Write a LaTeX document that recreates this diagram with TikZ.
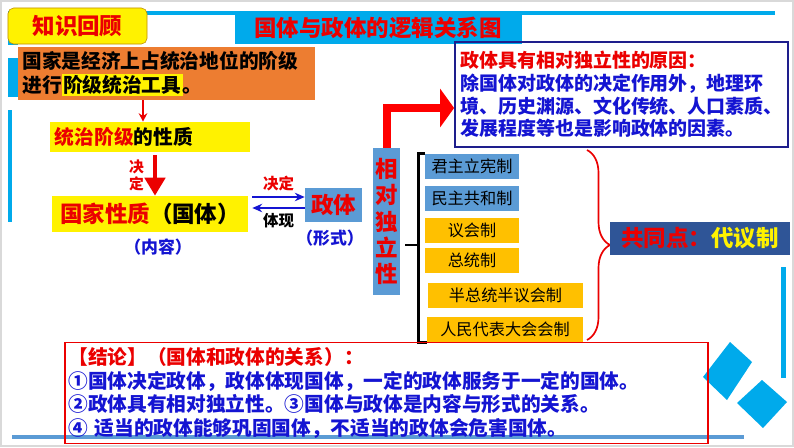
\documentclass[tikz,border=0pt]{standalone}
\usepackage{xcolor}
\usepackage{fontspec}
\setmainfont{Noto Sans CJK SC}
\usepackage{tikz}
\usetikzlibrary{calc,arrows.meta,decorations.pathreplacing}

\definecolor{skyblue}{RGB}{0,170,235}
\definecolor{boxblue}{RGB}{91,155,213}
\definecolor{gold}{RGB}{255,192,0}
\definecolor{orangebox}{RGB}{237,125,49}
\definecolor{navy}{RGB}{30,30,140}
\definecolor{darkbox}{RGB}{47,85,151}
\definecolor{txtblue}{RGB}{20,20,210}
\definecolor{txtred}{RGB}{235,0,0}

\tikzset{
    big/.style={font=\bfseries\fontsize{16pt}{18pt}\selectfont},
    mid/.style={font=\bfseries\fontsize{14pt}{17pt}\selectfont},
    small/.style={font=\bfseries\fontsize{11pt}{13pt}\selectfont},
    itembox/.style={inner sep=0pt, minimum height=0.625cm, text=black,
        font=\fontsize{11.5pt}{13pt}\selectfont},
    blueitem/.style={itembox, fill=boxblue},
    golditem/.style={itembox, fill=gold},
    bluearr/.style={txtblue, line width=1.3pt, -{Stealth[length=7pt,width=6pt]}},
}

\begin{document}
\begin{tikzpicture}[x=0.025cm,y=-0.025cm]
    \useasboundingbox (0,0) rectangle (794,447);
    \fill[white] (0,0) rectangle (794,447);
    \draw[gray!30, line width=1.5pt] (1,1) rectangle (793,446);

    % frame lines
    \fill[skyblue] (8,11) rectangle (775,15);
    \fill[skyblue] (235,11) rectangle (522,44);
    \fill[skyblue] (8,11) rectangle (18,45);
    \fill[skyblue] (8,58) rectangle (18,97);
    \fill[skyblue] (8,110) rectangle (12,222);
    \fill[skyblue] (781,267) rectangle (786,378);
    \fill[skyblue] (703,377) -- (730,342) -- (752,362) -- (727,400) -- cycle;
    \fill[skyblue] (737,403) -- (762,380) -- (787,402) -- (763,428) -- cycle;
    \fill[boxblue] (12,435) rectangle (744,439);

    % title
    \node[big, text=txtred] (title) at (378,28) {国体与政体的逻辑关系图};
    \node[big, draw={rgb,255:red,190;green,140;blue,0}, fill=yellow, rounded corners=4pt,
        minimum width=3.475cm, minimum height=0.9cm, text=txtred] (review) at (77.5,26) {知识回顾};

    % left column
    \node[mid, fill=orangebox, minimum width=7.425cm, minimum height=1.325cm,
        text width=7.2cm, align=left, inner sep=0.11cm] (defn) at (166.5,73.5)
        {国家是经济上占统治地位的阶级\\进行{\setlength{\fboxsep}{1pt}\colorbox{yellow}{阶级统治工具}}。};
    \node[mid, fill=yellow, minimum height=0.75cm, text width=4.75cm, align=left,
        inner sep=0.125cm] (rule) at (150,137) {{\color{txtred}统治阶级}的性质};
    \node[big, fill=yellow, minimum width=4.9cm, minimum height=0.9cm, inner sep=0pt]
        (nature) at (150,214) {{\color{txtred}国家性质}（国体）};
    \node[small, text=txtblue, font=\bfseries\fontsize{12pt}{14pt}\selectfont] (content) at (158,247) {（内容）};

    \draw[txtred, line width=1.5pt, -{Stealth[length=6pt,width=6pt]}]
        ($(defn.south)+(-23.5,0)$) -- ($(rule.north)+(-7,0)$);
    \draw[txtred, line width=3.5pt, -{Triangle[length=0.45cm,width=0.5cm]}]
        ($(rule.south)+(5,3)$) -- node[left, xshift=-0.1cm, small, text=txtred, align=center,
        font=\bfseries\fontsize{10.5pt}{12pt}\selectfont] {决\\定} ($(nature.north)+(5,0)$);

    % polity
    \node[big, fill=boxblue, text=txtred, minimum width=1.425cm, minimum height=0.85cm,
        inner sep=0pt] (polity) at (333.5,205) {政体};
    \node[text=txtblue, font=\bfseries\fontsize{12pt}{14pt}\selectfont] (form) at (330,238) {（形式）};
    \draw[bluearr] ($(nature.east |- polity.west)+(4,-8)$) -- node[above, small, text=txtred] {决定}
        ($(polity.west)+(0,-8)$);
    \draw[bluearr] ($(polity.west)+(0,3)$) -- node[below, small, text=black] {体现}
        ($(nature.east |- polity.west)+(4,3)$);

    % independence
    \node[fill=boxblue, text=txtred, minimum width=0.675cm, minimum height=3.675cm,
        inner sep=0pt, align=center, font=\bfseries\fontsize{16pt}{18.8pt}\selectfont]
        (indep) at (386.5,221.5) {相\\对\\独\\立\\性};
    \node[draw=navy, line width=1.2pt, minimum width=8.325cm, minimum height=2.625cm,
        align=left, text=txtblue, font=\bfseries\fontsize{13.5pt}{16.2pt}\selectfont]
        (reason) at (621.5,94.5)
        {{\color{txtred}政体具有相对独立性的原因：}\\
        除国体对政体的决定作用外，地理环\\
        境、历史渊源、文化传统、人口素质、\\
        发展程度等也是影响政体的因素。};
    \draw[red, line width=0.2cm, -{Triangle[length=0.35cm,width=0.95cm]}]
        (indep.north) |- ($(reason.west)+(0,13.5)$);

    % forms of government
    \node[blueitem, minimum width=2.35cm] (monarchy) at (472,166.5) {君主立宪制};
    \node[blueitem, minimum width=2.35cm] (republic) at (472,198.5) {民主共和制};
    \node[golditem, minimum width=2.35cm] (parliament) at (472,230.5) {议会制};
    \node[golditem, minimum width=2.35cm] (president) at (472,260.5) {总统制};
    \node[golditem, minimum width=3.875cm] (semi) at (505.5,295.5) {半总统半议会制};
    \node[golditem, minimum width=3.9cm] (npc) at (505,329.5) {人民代表大会会制};

    \draw[black, line width=2pt] (monarchy.north west) -- ++(-6,0) |- (npc.south west);
    \draw[black, line width=2pt] (405,245) -- (419,245);
    \draw[txtred, line width=1.2pt, decorate, decoration={brace, amplitude=0.575cm}]
        (587,150) -- (587,340);

    \node[big, fill=darkbox, minimum width=4.5cm, minimum height=0.825cm, inner sep=0pt]
        (common) at (700,238.5) {{\color{txtred}共同点：}{\color{yellow}代议制}};

    % conclusion
    \node[draw=txtred, line width=1pt, minimum width=16.075cm, minimum height=2.525cm,
        text width=15.9cm, align=left, inner xsep=0.08cm, text=txtblue,
        font=\bfseries\fontsize{14pt}{16.8pt}\selectfont] (concl) at (386.5,393)
        {{\color{txtred}【结论】（国体和政体的关系）：}\\
        ①国体决定政体，政体体现国体，一定的政体服务于一定的国体。\\
        ②政体具有相对独立性。③国体与政体是内容与形式的关系。\\
        ④ 适当的政体能够巩固国体，不适当的政体会危害国体。};

\end{tikzpicture}
\end{document}
